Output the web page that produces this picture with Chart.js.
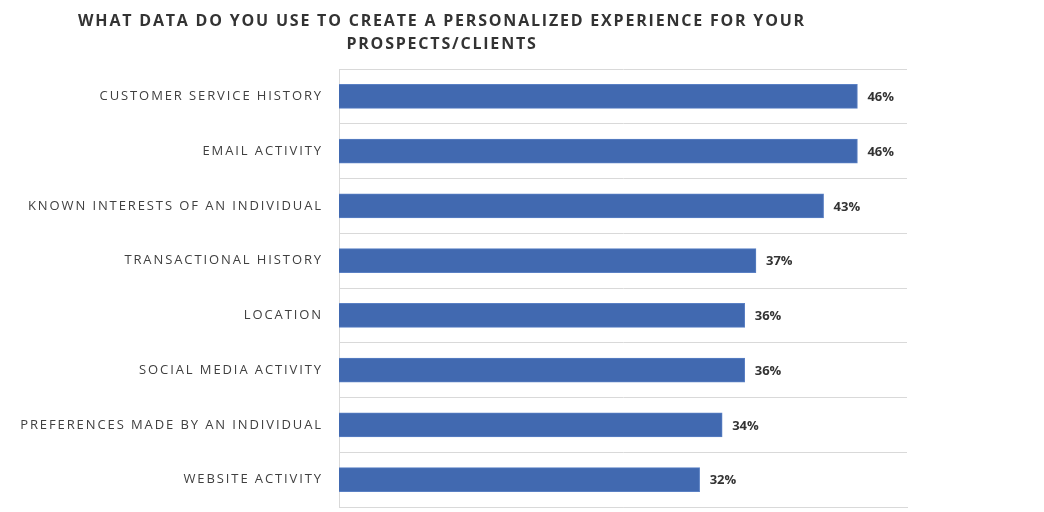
<!DOCTYPE html>
<html>
<head>
<meta charset="utf-8">
<script src="https://cdn.jsdelivr.net/npm/chart.js@4"></script>
<style>
    html, body { margin: 0; padding: 0; background: #fff; }
    #wrap { width: 1044px; height: 512px; }
</style>
</head>
<body>
<div id="wrap"><canvas id="personalData"></canvas></div>
<script>
    // data
    let categories = [
        "CUSTOMER SERVICE HISTORY",
        "EMAIL ACTIVITY",
        "KNOWN INTERESTS OF AN INDIVIDUAL",
        "TRANSACTIONAL HISTORY",
        "LOCATION",
        "SOCIAL MEDIA ACTIVITY",
        "PREFERENCES MADE BY AN INDIVIDUAL",
        "WEBSITE ACTIVITY"
    ];
    let shares = [46, 46, 43, 37, 36, 36, 34, 32];
    let titleLines = [
        "WHAT DATA DO YOU USE TO CREATE A PERSONALIZED EXPERIENCE FOR YOUR",
        "PROSPECTS/CLIENTS"
    ];

    // letter spacing for all canvas text
    var spacing = {
        id: 'spacing',
        beforeLayout(chart) { chart.ctx.letterSpacing = '1.9px'; },
        beforeDraw(chart) { chart.ctx.letterSpacing = '1.9px'; }
    };

    var titlePlugin = {
        id: 'titlePlugin',
        afterDraw(chart) {
            var ctx = chart.ctx;
            ctx.save();
            ctx.letterSpacing = '1.8px';
            ctx.font = 'bold 16px "Open Sans"';
            ctx.fillStyle = '#333333';
            ctx.textAlign = 'center';
            ctx.textBaseline = 'middle';
            ctx.fillText(titleLines[0], 442, 21);
            ctx.fillText(titleLines[1], 442, 44);
            ctx.restore();
        }
    };

    var valueLabels = {
        id: 'valueLabels',
        afterDatasetsDraw(chart) {
            var ctx = chart.ctx;
            var meta = chart.getDatasetMeta(0);
            ctx.save();
            ctx.letterSpacing = '0px';
            ctx.font = 'bold 13px "Open Sans"';
            ctx.fillStyle = '#333333';
            ctx.textAlign = 'left';
            ctx.textBaseline = 'middle';
            meta.data.forEach((bar, i) => {
                ctx.fillText(shares[i] + '%', bar.x + 10, bar.y + 1);
            });
            ctx.restore();
        }
    };

    var canvas = document.getElementById("personalData");

    var barChart = new Chart(canvas, {
        type: 'bar',
        data: {
            labels: categories,
            datasets: [{
                data: shares,
                backgroundColor: '#4169b0',
                borderColor: '#5a80c4',
                borderWidth: 1,
                barThickness: 24
            }]
        },
        options: {
            indexAxis: 'y',
            responsive: true,
            maintainAspectRatio: false,
            animation: false,
            layout: {
                padding: {top: 69, right: 137, bottom: 5, left: 0}
            },
            plugins: {
                legend: {display: false},
                tooltip: {enabled: false}
            },
            scales: {
                x: {
                    min: 0,
                    max: 50.4,
                    afterFit(axis) { axis.height = 0; },
                    ticks: {display: false},
                    grid: {display: false},
                    border: {display: true, color: '#d9d9d9'}
                },
                y: {
                    afterFit(axis) {
                        axis.width = 339;
                        axis.paddingTop = 0;
                        axis.paddingBottom = 0;
                    },
                    grid: {
                        display: true,
                        color: '#d9d9d9',
                        drawTicks: false,
                        offset: true
                    },
                    border: {display: true, color: '#d9d9d9'},
                    ticks: {
                        color: '#404040',
                        padding: 16,
                        font: {family: '"Open Sans"', size: 13}
                    }
                }
            }
        },
        plugins: [spacing, titlePlugin, valueLabels]
    });
</script>
</body>
</html>
